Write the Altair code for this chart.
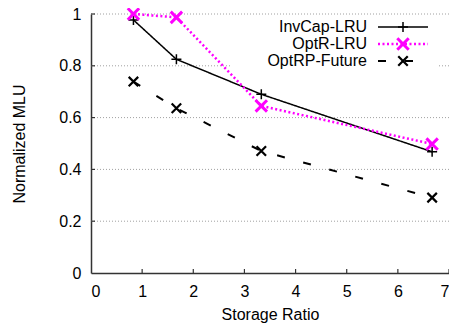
import altair as alt
import pandas as pd

series = ["InvCap-LRU", "OptR-LRU", "OptRP-Future"]
storage_ratio = [0.83, 1.67, 3.33, 6.67]
invcap_lru = [0.977, 0.825, 0.690, 0.468]
optr_lru = [1.000, 0.987, 0.645, 0.498]
optrp_future = [0.739, 0.636, 0.471, 0.291]
x_ticks = [0, 1, 2, 3, 4, 5, 6, 7]
y_ticks = [0, 0.2, 0.4, 0.6, 0.8, 1]

colors = ["#000000", "#ff00ff", "#000000"]
dashes = [[1, 0], [2, 2.5], [8, 19]]
widths = [1.5, 2.5, 2]
PLUS = "M-1,0L1,0M0,-1L0,1"
CROSS = "M-1,-1L1,1M-1,1L1,-1"
shapes = [PLUS, CROSS, CROSS]
sizes = [100, 130, 90]
mwidths = [1.5, 3, 2.2]

rows = []
for name, vals in zip(series, [invcap_lru, optr_lru, optrp_future]):
    for xv, yv in zip(storage_ratio, vals):
        rows.append({"series": name, "x": xv, "y": yv})
df = pd.DataFrame(rows)

W, H = 358, 259
FONT = "Liberation Sans"

xs = alt.Scale(domain=[0, 7], nice=False)
ys = alt.Scale(domain=[0, 1], nice=False)

grid = alt.Chart(pd.DataFrame({"y": y_ticks[1:]})).mark_rule(
    color="#a0a0a0", strokeDash=[1, 2], strokeWidth=1
).encode(y=alt.Y("y:Q", scale=ys), x=alt.value(0), x2=alt.value(W))

axes = alt.Chart(pd.DataFrame({"x": [0]})).mark_point(opacity=0).encode(
    x=alt.X("x:Q", scale=xs, title="Storage Ratio",
            axis=alt.Axis(values=x_ticks, grid=False, ticks=False, domain=True,
                          domainColor="#333333", domainWidth=1.5,
                          labelFont=FONT, labelFontSize=16, labelColor="#000",
                          labelPadding=10, titleFont=FONT, titleFontSize=16,
                          titleFontWeight="normal", titleColor="#000", titlePadding=7)),
)
yaxis = alt.Chart(pd.DataFrame({"y": [0]})).mark_point(opacity=0).encode(
    y=alt.Y("y:Q", scale=ys, title="Normalized MLU",
            axis=alt.Axis(values=y_ticks, grid=False, ticks=False, domain=True,
                          domainColor="#333333", domainWidth=1.5,
                          labelFont=FONT, labelFontSize=16, labelColor="#000",
                          labelPadding=10, titleFont=FONT, titleFontSize=16,
                          titleFontWeight="normal", titleColor="#000", titlePadding=31,
                          labelExpr="datum.value")),
)

xtick = alt.Chart(pd.DataFrame({"x": x_ticks[1:]})).mark_rule(color="#333333", strokeWidth=1.2).encode(
    x=alt.X("x:Q", scale=xs), y=alt.value(H), y2=alt.value(H - 4))
ytick = alt.Chart(pd.DataFrame({"y": y_ticks[1:]})).mark_rule(color="#333333", strokeWidth=1.2).encode(
    y=alt.Y("y:Q", scale=ys), x=alt.value(0), x2=alt.value(4))

legend_box = alt.Chart(pd.DataFrame({"a": [0]})).mark_rect(color="white").encode(
    x=alt.value(141), x2=alt.value(347), y=alt.value(5), y2=alt.value(58))

layers = [grid, axes, yaxis, xtick, ytick, legend_box]

for i, name in enumerate(series):
    sub = df[df.series == name]
    layers.append(alt.Chart(sub).mark_line(
        color=colors[i], strokeDash=dashes[i], strokeWidth=widths[i], strokeCap="butt"
    ).encode(x=alt.X("x:Q", scale=xs), y=alt.Y("y:Q", scale=ys)))
    layers.append(alt.Chart(sub).mark_point(
        shape=shapes[i], size=sizes[i], color=colors[i], strokeWidth=mwidths[i], filled=False, opacity=1
    ).encode(x=alt.X("x:Q", scale=xs), y=alt.Y("y:Q", scale=ys)))

    ly = 13 + 17 * i
    one = pd.DataFrame({"label": [name]})
    layers.append(alt.Chart(one).mark_text(
        align="right", baseline="middle", font=FONT, fontSize=16, color="#000"
    ).encode(text="label:N", x=alt.value(276), y=alt.value(ly)))
    layers.append(alt.Chart(one).mark_rule(
        color=colors[i], strokeDash=dashes[i], strokeWidth=widths[i], strokeCap="butt"
    ).encode(x=alt.value(287), x2=alt.value(337), y=alt.value(ly)))
    layers.append(alt.Chart(one).mark_point(
        shape=shapes[i], size=sizes[i], color=colors[i], strokeWidth=mwidths[i], filled=False, opacity=1
    ).encode(x=alt.value(312), y=alt.value(ly)))

chart = alt.layer(*layers).properties(
    width=W, height=H,
    autosize=alt.AutoSizeParams(type="none"),
    padding={"left": 83, "top": 6, "right": 0, "bottom": 52},
).configure_view(stroke=None)

chart.save("out.html", embed_options={"renderer": "svg", "actions": False})
